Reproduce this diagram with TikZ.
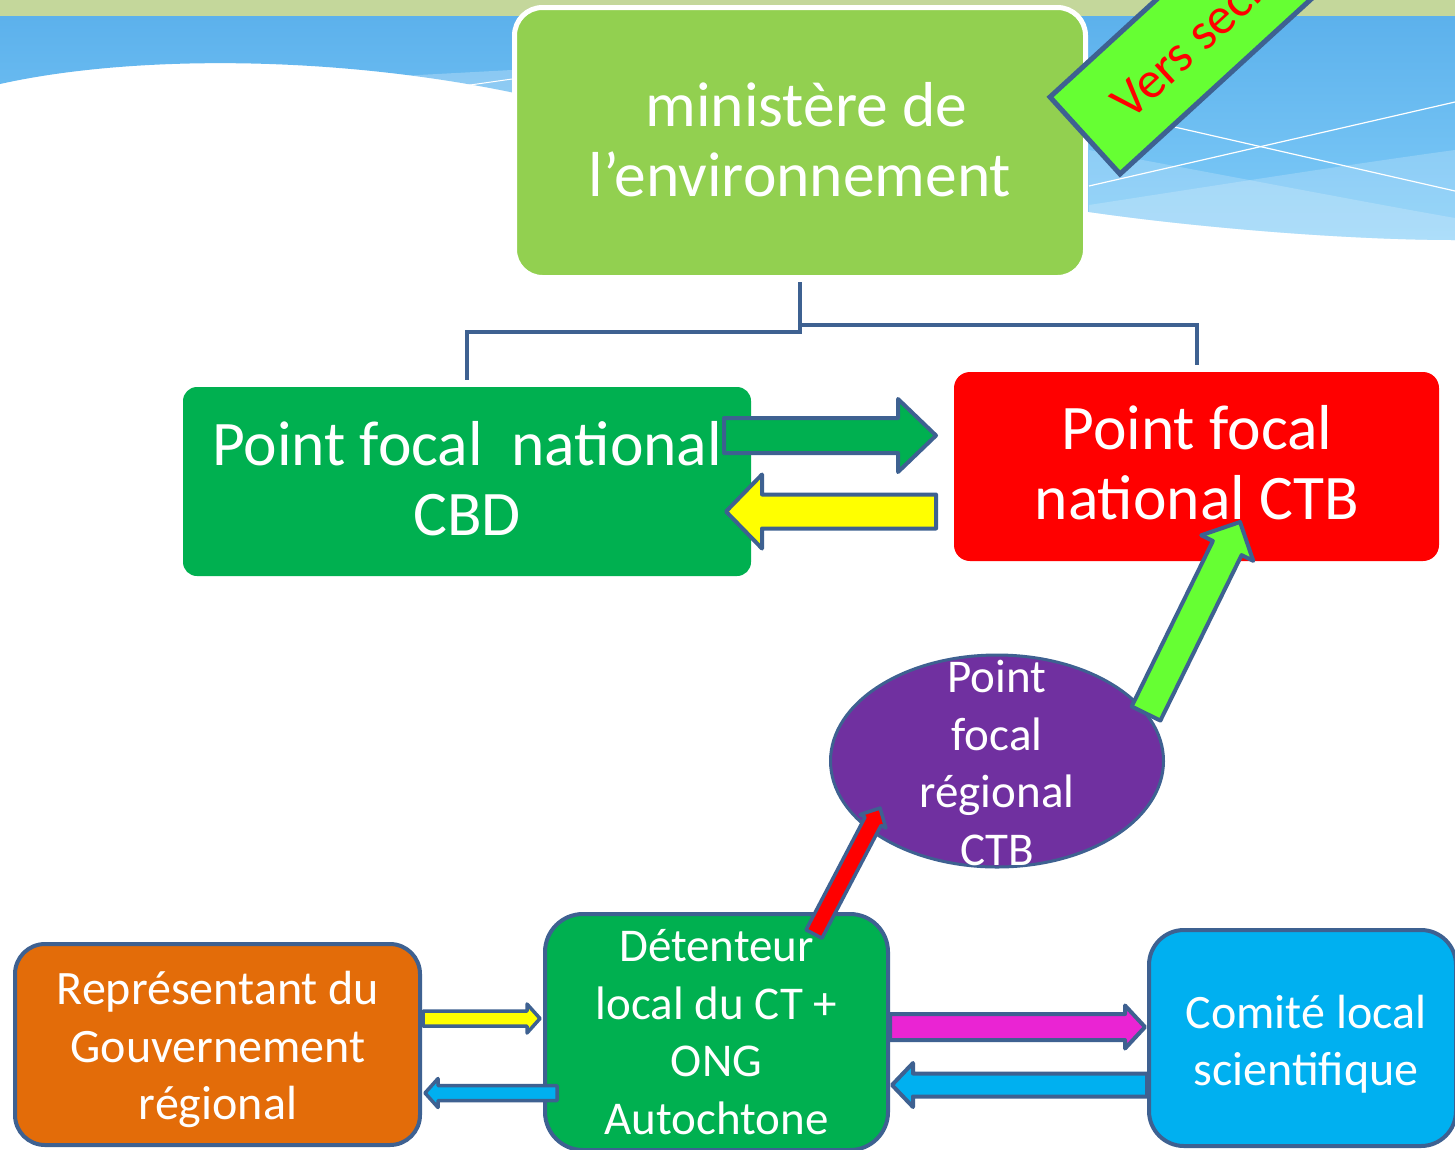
\documentclass[tikz,border=0pt]{standalone}
\usepackage{fontspec}
\setmainfont{Carlito}
\usetikzlibrary{calc,shapes.geometric}
\definecolor{oliveband}{RGB}{196,215,155}
\definecolor{skytop}{RGB}{92,177,236}
\definecolor{skybot}{RGB}{128,204,248}
\definecolor{mingreen}{HTML}{92D050}
\definecolor{cbdgreen}{HTML}{00B050}
\definecolor{ptred}{HTML}{FF0000}
\definecolor{ptpurple}{HTML}{7030A0}
\definecolor{ptorange}{HTML}{E36C09}
\definecolor{ptcyan}{HTML}{00B0F0}
\definecolor{ptlime}{HTML}{66FF33}
\definecolor{ptmagenta}{RGB}{234,36,211}
\definecolor{ptyellow}{HTML}{FFFF00}
\definecolor{edgeblue}{HTML}{3E6191}
\tikzset{
  conn/.style={draw=edgeblue, line width=4pt},
  bigfont/.style={font=\fontsize{63.5}{70}\selectfont},
  smallfont/.style={font=\fontsize{48}{57.5}\selectfont},
  box/.style={rectangle, rounded corners=#1, inner sep=0pt},
  box/.default=14pt,
  boxtext/.style={text=white, align=center, inner sep=0pt},
  arrowline/.style={draw=edgeblue, line join=round},
}
\newcommand\blockarrow[7]{%
  \coordinate (ba) at ($(#3)!#6!(#2)$);
  \draw[arrowline, line width=#7, fill=#1]
    ($(#2)!#4!90:(#3)$) -- ($(ba)!#4!-90:(#2)$) -- ($(ba)!#5!-90:(#2)$) -- (#3)
    -- ($(ba)!#5!90:(#2)$) -- ($(ba)!#4!90:(#2)$) -- ($(#2)!#4!-90:(#3)$) -- cycle;
}
\begin{document}
\begin{tikzpicture}[x=1pt,y=-1pt]
\useasboundingbox (0,0) rectangle (1455,1149);
\clip (0,0) rectangle (1455,1149);
% background
\fill[white] (0,0) rectangle (1455,1149);
\shade[top color=skytop, bottom color=skybot]
  (0,16) -- (1455,16) -- (1455,240) .. controls (1350,240) and (1200,228) .. (1089,212)
  -- (510,92) .. controls (330,55) and (130,55) .. (0,84) -- cycle;
\fill[oliveband] (0,0) rectangle (1455,16);
\fill[white, opacity=.2] (1089,150) .. controls (1250,180) and (1380,205) .. (1455,218)
  -- (1455,240) .. controls (1350,240) and (1200,228) .. (1089,212) -- cycle;
\fill[white, opacity=.2] (1089,205) .. controls (1250,180) and (1380,160) .. (1455,150)
  -- (1455,240) .. controls (1350,240) and (1200,228) .. (1089,212) -- cycle;
\draw[white, line width=1.2pt] (1089,186) -- (1455,102);
\draw[white, line width=1.2pt] (1100,110) -- (1455,191);
\fill[white, opacity=.25] (400,76) -- (512,70) -- (512,93) -- (470,87) -- cycle;
\draw[white, line width=1pt] (463,86) -- (512,79);

% boxes
\node[box=28pt, fill=mingreen, draw=white, line width=5pt, minimum width=571pt, minimum height=270pt] (min) at (800,142.5) {};
\node[boxtext, bigfont] (minT) at (800,139.5) {\hspace*{13pt}ministère de\\l’environnement};
\node[box=14pt, fill=cbdgreen, minimum width=568pt, minimum height=189pt] (cbd) at (467,481.5) {};
\node[boxtext, bigfont] (cbdT) at (467,478.5) {Point focal\ \ national\\CBD};
\node[box=16pt, fill=ptred, minimum width=485pt, minimum height=189pt] (ctb) at (1196.5,466.5) {};
\node[boxtext, bigfont] (ctbT) at (1197,463) {Point focal\\national CTB};
\node[ellipse, fill=ptpurple, draw=edgeblue, line width=3pt, minimum width=333pt, minimum height=212pt, inner sep=0pt] (pfr) at (997,761) {};
\node[boxtext, font=\fontsize{47}{57.5}\selectfont] (pfrT) at (997,763) {Point\\focal\\régional\\CTB};
\node[box=30pt, fill=ptorange, draw=edgeblue, line width=4pt, minimum width=405pt, minimum height=201pt] (rep) at (217.5,1044.5) {};
\node[boxtext, smallfont] (repT) at (218,1049.5) {Représentant du\\Gouvernement\\régional};
\node[box=38pt, fill=cbdgreen, draw=edgeblue, line width=4pt, minimum width=343pt, minimum height=236pt] (det) at (716.5,1032) {};
\node[boxtext, font=\fontsize{47}{57.5}\selectfont] (detT) at (716.5,1032) {Détenteur\\local du CT +\\ONG\\Autochtone};
\node[box=35pt, fill=ptcyan, draw=edgeblue, line width=4pt, minimum width=307pt, minimum height=216pt] (com) at (1302.5,1038) {};
\node[boxtext, smallfont] (comT) at (1306,1044) {Comité local\\scientifique};

% banner
\draw[draw=edgeblue, line width=5pt, fill=ptlime, line join=miter] (1050,97) -- (1120,174) -- (1415,-96) -- (1345,-173) -- cycle;
\node[rotate=42.5, anchor=base west, text=ptred, font=\fontsize{52}{60}\selectfont, inner sep=0pt] (vers) at (1130,122) {Vers secr};

% tree connectors
\draw[conn] ([yshift=-2pt]min.south) -- ++(0,50) -| ([yshift=7pt]cbd.north);
\draw[conn] ([yshift=-45pt]min.south) -| ([yshift=7pt]ctb.north);

% arrow end points
\coordinate (a1s) at (724,435.5);  \coordinate (a1e) at (936,435.5);
\coordinate (a2s) at (936,511.5);  \coordinate (a2e) at (726,511.5);
\coordinate (a3s) at (1146,713.5); \coordinate (a3e) at (1240,522);
\coordinate (a4s) at (814,934);    \coordinate (a4e) at (880,808);
\coordinate (a5s) at (423,1018.5); \coordinate (a5e) at (540,1018.5);
\coordinate (a6s) at (557,1093);   \coordinate (a6e) at (425,1093);
\coordinate (a7s) at (890,1027);   \coordinate (a7e) at (1145,1027);
\coordinate (a8s) at (1147,1085);  \coordinate (a8e) at (892,1085);

\blockarrow{cbdgreen}{a1s}{a1e}{17.5pt}{36.5pt}{38pt}{4pt}
\blockarrow{ptyellow}{a2s}{a2e}{17pt}{37pt}{36pt}{4pt}
\blockarrow{ptlime}{a3s}{a3e}{16pt}{29pt}{29pt}{4pt}
\blockarrow{ptred}{a4s}{a4e}{9pt}{14.5pt}{15pt}{3.5pt}
\blockarrow{ptyellow}{a5s}{a5e}{7.5pt}{14.5pt}{13pt}{3.5pt}
\blockarrow{ptcyan}{a6s}{a6e}{7.5pt}{14.5pt}{13pt}{3.5pt}
\blockarrow{ptmagenta}{a7s}{a7e}{13pt}{21.5pt}{20pt}{4pt}
\blockarrow{ptcyan}{a8s}{a8e}{11.5pt}{22pt}{21pt}{4pt}
\end{tikzpicture}
\end{document}
